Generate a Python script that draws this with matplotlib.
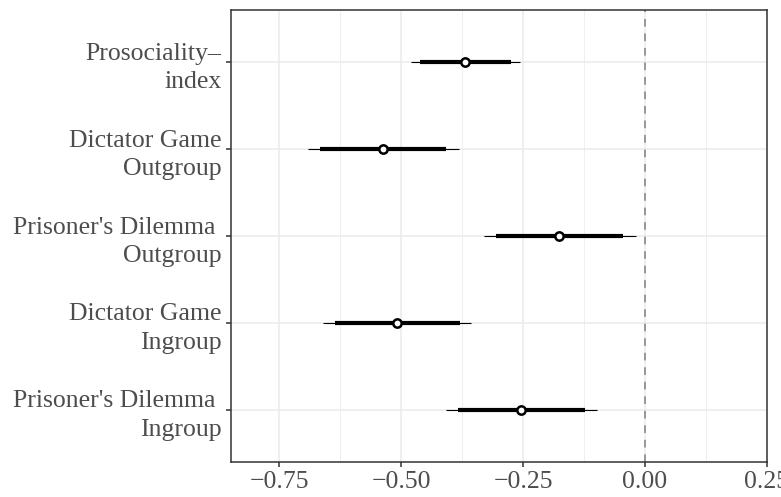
import numpy as np
import matplotlib.pyplot as plt
from matplotlib.ticker import FixedLocator, FuncFormatter

# --------------------------------------------------------------------------------------------------
# Values (top row first)
labels = ["Prosociality\u2013\nindex",
          "Dictator Game\nOutgroup",
          "Prisoner's Dilemma \nOutgroup",
          "Dictator Game\nIngroup",
          "Prisoner's Dilemma \nIngroup"]
estimate = [-0.369, -0.537, -0.176, -0.509, -0.254]
inner_lo = [-0.462, -0.666, -0.306, -0.636, -0.383]
inner_hi = [-0.275, -0.407, -0.044, -0.380, -0.123]
outer_lo = [-0.480, -0.692, -0.331, -0.660, -0.408]
outer_hi = [-0.257, -0.382, -0.019, -0.356, -0.098]
x_ticks = [-0.75, -0.50, -0.25, 0.00, 0.25]
# --------------------------------------------------------------------------------------------------


def main():
    plt.rcParams["font.family"] = "Liberation Serif"
    plt.rcParams["font.size"] = 18.5

    fig = plt.figure(figsize=(7.81, 4.97), dpi=100)
    ax = fig.add_axes([0.2958, 0.0704, 0.9817 - 0.2958, 0.9799 - 0.0704])

    n = len(labels)
    y = np.arange(n, 0, -1)

    ax.set_xlim(-0.849, 0.25)
    ax.set_ylim(0.4, n + 0.6)

    # grid like theme_bw
    ax.xaxis.set_major_locator(FixedLocator(x_ticks))
    ax.xaxis.set_minor_locator(FixedLocator([-0.625, -0.375, -0.125, 0.125]))
    ax.grid(which="major", color="#EBEBEB", linewidth=1.1, zorder=0)
    ax.grid(which="minor", axis="x", color="#EBEBEB", linewidth=0.55, zorder=0)
    ax.set_axisbelow(True)

    ax.axvline(0, color="#7F7F7F", linestyle=(0, (5, 4.5)), linewidth=1.1, zorder=1)

    ax.hlines(y, outer_lo, outer_hi, color="black", linewidth=0.8, zorder=2)
    ax.hlines(y, inner_lo, inner_hi, color="black", linewidth=3.0, zorder=3)
    ax.plot(estimate, y, "o", markersize=6, markerfacecolor="white",
            markeredgecolor="black", markeredgewidth=1.8, zorder=4)

    ax.set_yticks(y)
    ax.set_yticklabels(labels)
    ax.xaxis.set_major_formatter(FuncFormatter(lambda v, p: "{0:.2f}".format(v).replace("-", "\u2212")))

    for s in ax.spines.values():
        s.set_color("#333333")
        s.set_linewidth(1.1)
    ax.tick_params(axis="both", which="major", length=3.8, width=1.1, color="#333333",
                   labelcolor="#4D4D4D", pad=3)
    ax.tick_params(axis="x", which="minor", length=0)
    for t in ax.get_yticklabels():
        t.set_linespacing(1.38)

    fig.savefig("out.png", dpi=100)
    plt.close(fig)
# --------------------------------------------------------------------------------------------------


if __name__ == '__main__':
    main()
